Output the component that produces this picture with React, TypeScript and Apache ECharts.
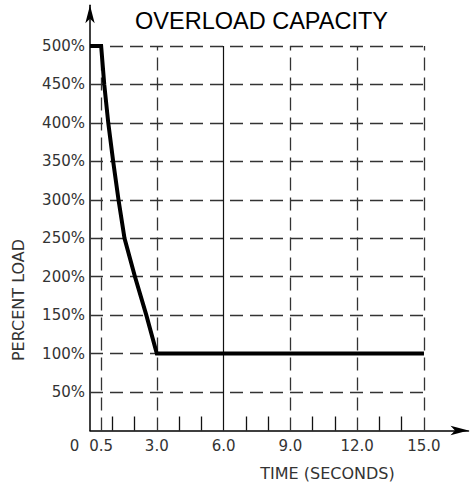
import React, { useEffect, useRef } from "react";
import * as echarts from "echarts";

const timeValues = [0, 0.5, 0.64, 0.82, 1.04, 1.28, 1.55, 2.02, 2.53, 3.0, 15.0];
const loadValues = [500, 500, 450, 400, 350, 300, 250, 200, 150, 100, 100];

const yLabelValues = [50, 100, 150, 200, 250, 300, 350, 400, 450, 500];
const xLabelValues = [0, 0.5, 3, 6, 9, 12, 15];
const xMinorTicks = [1, 2, 4, 5, 7, 8, 10, 11, 13, 14];
const xDashedGrid = [0.5, 3, 9, 12, 15];
const xSolidGrid = [6];

const TITLE = "OVERLOAD CAPACITY";
const X_NAME = "TIME (SECONDS)";
const Y_NAME = "PERCENT LOAD";

export default function App() {
  const ref = useRef<HTMLDivElement>(null);
  useEffect(() => {
    if (!ref.current) return;
    const chart = echarts.init(ref.current, undefined, { renderer: "svg" });
    const labelFont = "DejaVu Sans";
    const gridColor = "#333";
    const dashed = { type: [13, 7] as any, color: gridColor, width: 1.3 };
    const hLines = yLabelValues.map((v) => [
      { coord: [0, v] },
      { coord: [15, v] },
    ]);
    const vDashed = xDashedGrid.map((v) => [
      { coord: [v, 0] },
      { coord: [v, 500] },
    ]);
    const vSolid = xSolidGrid.map((v) => [
      { coord: [v, 0], lineStyle: { type: "solid", color: "#111", width: 1.2 } },
      { coord: [v, 500] },
    ]);
    chart.setOption({
      animation: false,
      grid: { left: 90, right: 2.5, top: 5.2, bottom: 54.5, containLabel: false },
      xAxis: {
        type: "value",
        min: 0,
        max: 17,
        axisLine: {
          show: true,
          onZero: false,
          symbol: ["none", "arrow"],
          symbolSize: [7, 18],
          lineStyle: { color: "#000", width: 1.5 },
        },
        axisTick: {
          show: true,
          inside: true,
          length: 14,
          customValues: xMinorTicks,
          lineStyle: { color: "#111", width: 1.3 },
        },
        axisLabel: {
          customValues: xLabelValues,
          margin: 8,
          fontFamily: labelFont,
          fontSize: 15,
          color: "#333",
          formatter: (v: number) => (v === 0 ? "{o|0}" : v.toFixed(1)),
          rich: {
            o: { fontFamily: labelFont, fontSize: 15, color: "#333", padding: [0, 31, 0, 0] },
          },
        },
        splitLine: { show: false },
      },
      yAxis: {
        type: "value",
        min: 0,
        max: 553,
        axisLine: {
          show: true,
          onZero: false,
          symbol: ["none", "arrow"],
          symbolSize: [7, 18],
          lineStyle: { color: "#000", width: 1.5 },
        },
        axisTick: { show: false },
        axisLabel: {
          customValues: yLabelValues,
          margin: 5,
          fontFamily: labelFont,
          fontSize: 15,
          color: "#333",
          formatter: (v: number) => v + "%",
        },
        splitLine: { show: false },
      },
      series: [
        {
          type: "line",
          data: [],
          silent: true,
          markLine: {
            silent: true,
            symbol: ["none", "none"],
            label: { show: false },
            lineStyle: dashed,
            data: [...hLines, ...vDashed, ...vSolid],
          },
        },
        {
          type: "line",
          data: timeValues.map((t, i) => [t, loadValues[i]]),
          symbol: "none",
          z: 5,
          lineStyle: { color: "#000", width: 4, join: "miter" },
        },
      ],
      graphic: [
        {
          type: "text",
          x: 261.5,
          y: 20.5,
          style: {
            text: TITLE,
            fontFamily: "Liberation Sans",
            fontSize: 23.5,
            fill: "#000",
            align: "center",
            verticalAlign: "middle",
          },
        },
        {
          type: "text",
          x: 327.5,
          y: 473,
          style: {
            text: X_NAME,
            fontFamily: labelFont,
            fontSize: 16,
            fill: "#333",
            align: "center",
            verticalAlign: "middle",
          },
        },
        {
          type: "text",
          x: 18,
          y: 300,
          rotation: Math.PI / 2,
          style: {
            text: Y_NAME,
            fontFamily: labelFont,
            fontSize: 16,
            fill: "#333",
            align: "center",
            verticalAlign: "middle",
          },
        },
      ],
    });
    return () => chart.dispose();
  }, []);
  return (
    <div
      ref={ref}
      style={{ position: "fixed", left: 0, top: 0, width: 471, height: 485, background: "#fff" }}
    />
  );
}
